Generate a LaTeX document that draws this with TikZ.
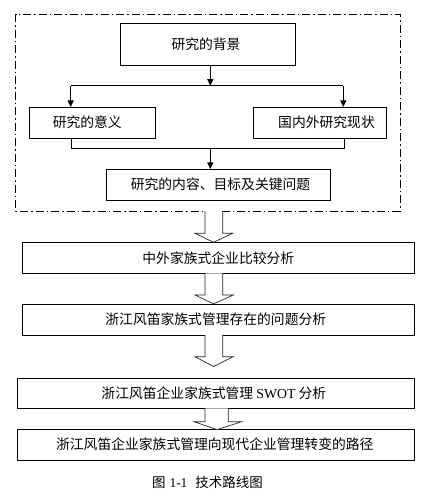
\documentclass[tikz,border=0pt]{standalone}
\usepackage{fontspec}
\setmainfont{Noto Sans CJK SC}
\newfontfamily\tnr{Liberation Serif}
\usetikzlibrary{arrows.meta}
\begin{document}
\begin{tikzpicture}[x=1pt,y=-1pt,
  box/.style={draw,line width=0.8pt,inner sep=0pt,font=\fontsize{13.8}{16}\selectfont},
  ln/.style={line width=0.8pt},
  arr/.style={line width=0.8pt,-{Triangle[length=6.5pt,width=6pt]}},
  blk/.style={draw=black!85,line width=0.7pt,fill=white},
  frame/.style={line width=0.8pt,dash pattern=on 8pt off 3pt on 1.5pt off 3pt}]
\useasboundingbox (0,0) rectangle (429,498);
\fill[white] (0,0) rectangle (429,498);
% dashed frame
\draw[frame] (15.7,14) rectangle (400,211);
% top group
\node[box,minimum width=174.6pt,minimum height=41.7pt] (bg) at (208,44.2) {研究的背景\hspace*{4pt}};
\node[box,minimum width=126pt,minimum height=30.7pt] (yy) at (92.3,122.7) {研究的意义\hspace*{10pt}};
\node[box,minimum width=133.4pt,minimum height=30.7pt] (gn) at (320,122.7) {\hspace*{13pt}国内外研究现状};
\node[box,minimum width=224.4pt,minimum height=30.7pt] (nr) at (218.5,184.7) {\hspace*{4pt}研究的内容、目标及关键问题};
\coordinate (j1) at (210.3,85.7);
\coordinate (jl) at (70.7,85.7);
\coordinate (jr) at (343.3,85.7);
\coordinate (k1) at (210.3,148.3);
\coordinate (kl) at (71.7,148.3);
\coordinate (kr) at (344,148.3);
\draw[arr] (bg.south -| j1) -- (j1);
\draw[ln] (jl) -- (jr);
\draw[arr] (jl) -- (yy.north -| jl);
\draw[arr] (jr) -- (gn.north -| jr);
\draw[ln] (yy.south -| kl) -- (kl) -- (kr) -- (gn.south -| kr);
\draw[arr] (k1) -- (nr.north -| k1);
% lower boxes
\node[box,minimum width=392pt,minimum height=31pt] (b1) at (218.3,257.8) {中外家族式企业比较分析};
\node[box,minimum width=392pt,minimum height=31pt] (b2) at (218.3,319.5) {\hspace*{1pt}浙江风笛家族式管理存在的问题分析\hspace*{6pt}};
\node[box,minimum width=397pt,minimum height=30pt] (b3) at (215.8,393.3) {浙江风笛企业家族式管理 {\tnr SWOT} 分析\hspace*{4pt}};
\node[box,minimum width=397pt,minimum height=30.7pt] (b4) at (215.8,444.7) {浙江风笛企业家族式管理向现代企业管理转变的路径\hspace*{2pt}};
\node[font=\fontsize{13.5}{15}\selectfont,inner sep=0pt] (cap) at (207.5,482) {图\hspace{4pt}{\tnr 1-1}\hspace{8pt}技术路线图};
% block arrows
\draw[blk] (205,211) -- (205,233.3) -- (195,233.3) -- (213.5,242.3) -- (232.7,233.3) -- (222.7,233.3) -- (222.7,211);
\draw[blk] (205,273.3) -- (205,295) -- (195,295) -- (213.5,303.8) -- (233.3,295) -- (222.7,295) -- (222.7,273.3);
\draw[blk] (205,335) -- (205,356.7) -- (195,356.7) -- (213.5,366.5) -- (233.3,356.7) -- (222.7,356.7) -- (222.7,335);
\draw[blk] (205,408.3) -- (205,421.7) -- (194,421.7) -- (217,429.6) -- (241.7,421.7) -- (228.3,421.7) -- (228.3,408.3);
\end{tikzpicture}
\end{document}
